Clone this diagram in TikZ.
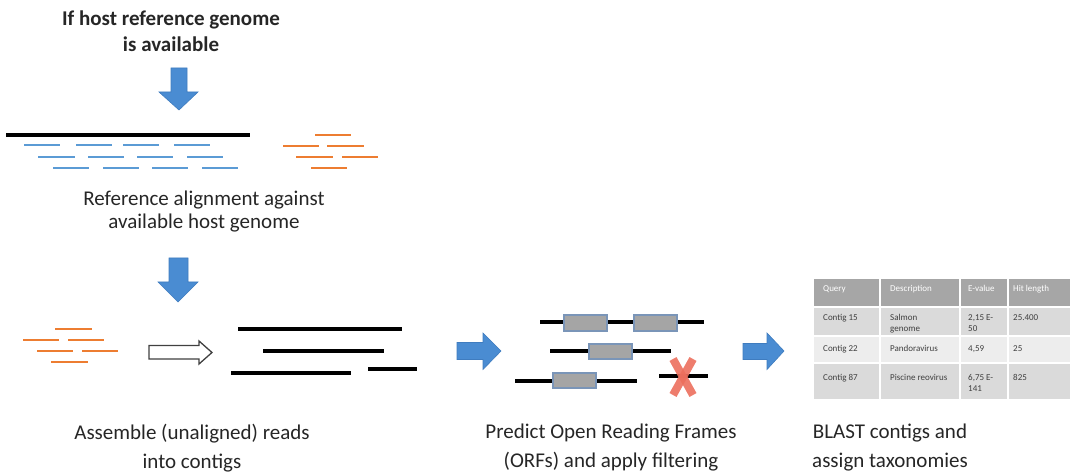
\documentclass[tikz,border=0pt]{standalone}
\usepackage{fontspec}
\setmainfont{Carlito}
\definecolor{flowblue}{HTML}{4A8CD2}
\definecolor{flowedge}{HTML}{3F7CBF}
\definecolor{readblue}{HTML}{5B9BD5}
\definecolor{readorange}{HTML}{ED7D31}
\definecolor{orfgray}{HTML}{A5A5A5}
\definecolor{orfedge}{HTML}{7A95B8}
\definecolor{xred}{HTML}{EC6F5D}
\definecolor{hdrgray}{HTML}{A6A6A6}
\definecolor{rowdark}{HTML}{DADADA}
\definecolor{rowlight}{HTML}{EDEDED}
\definecolor{cellink}{HTML}{3F3F3F}
\definecolor{captionink}{HTML}{262626}

\begin{document}
\begin{tikzpicture}[x=1pt,y=-1pt,
  caption/.style={align=center, text=captionink, inner sep=0pt},
  blueread/.style={readblue, line width=2.6pt},
  orangeread/.style={readorange, line width=2.6pt},
  dnaline/.style={black, line width=3.2pt},
  orfbox/.style={draw=orfedge, fill=orfgray, line width=1.2pt},
  blockarrow/.style={fill=flowblue, draw=flowedge, line width=0.6pt, line join=miter},
  hollowarrow/.style={fill=white, draw=black!75, line width=1.3pt, line join=miter},
  cell/.style={font=\fontsize{9}{11}\selectfont, text=cellink, anchor=north west, inner sep=0pt, align=left},
  hdr/.style={cell, text=white}
]
\useasboundingbox (0,0) rectangle (1074,473);

% ---------- captions ----------
\node[caption, font=\bfseries\fontsize{21}{26}\selectfont] (title) at (171,31)
  {If host reference genome\\is available};
\node[caption, font=\fontsize{21}{23}\selectfont] (refalign) at (204,212)
  {Reference alignment against\\available host genome};
\node[caption, font=\fontsize{21}{29}\selectfont] (assemble) at (192,448)
  {Assemble (unaligned) reads\\into contigs};
\node[caption, font=\fontsize{21}{29}\selectfont] (predict) at (611,448)
  {Predict Open Reading Frames\\(ORFs) and apply filtering};
\node[caption, font=\fontsize{21}{29}\selectfont] (blast) at (890,448)
  {BLAST contigs and\\assign taxonomies};

% ---------- block arrows ----------
% downward: shaft 68--92, head 92--110
\draw[blockarrow] (171,68) -- (187,68) -- (187,92) -- (198,92) -- (179,110)
  -- (159,92) -- (171,92) -- cycle;
\draw[blockarrow] (169,258) -- (188,258) -- (188,282) -- (198,282) -- (178,302)
  -- (158,282) -- (169,282) -- cycle;
% rightward
\draw[blockarrow] (457,342.5) -- (483,342.5) -- (483,333) -- (501,351) -- (483,369.5)
  -- (483,359.5) -- (457,359.5) -- cycle;
\draw[blockarrow] (743,343.5) -- (767,343.5) -- (767,333) -- (784,351) -- (767,369.5)
  -- (767,359.5) -- (743,359.5) -- cycle;
% hollow assembly arrow
\draw[hollowarrow] (149,345.5) -- (199,345.5) -- (199,341) -- (212,352.5) -- (199,364)
  -- (199,359) -- (149,359) -- cycle;

% ---------- reference alignment ----------
\draw[dnaline] (6,135) -- (250,135);
\foreach \a/\b/\y in {24/60/145, 76/112/145, 123/159/145, 174/210/145,
                      38/75/157, 88/124/157, 137/173/157, 187/223/157,
                      53/89/168, 103/139/168, 152/188/168, 202/238/168}
  \draw[blueread] (\a,\y) -- (\b,\y);
\foreach \a/\b/\y in {315/351/135, 283/319/146, 327/364/146,
                      296/333/157, 342/378/157, 311/347/168}
  \draw[orangeread] (\a,\y) -- (\b,\y);

% ---------- assembly ----------
\foreach \a/\b/\y in {55/92/329, 23/59/340, 68/104/340,
                      37/73/351, 82/118/351, 51/88/362}
  \draw[orangeread] (\a,\y) -- (\b,\y);
\foreach \a/\b/\y in {238/402/329, 263/384/351, 231/351/373, 368/417/369}
  \draw[dnaline] (\a,\y) -- (\b,\y);

% ---------- ORF prediction ----------
\draw[dnaline] (540,322) -- (704,322);
\draw[orfbox] (564,315) rectangle (607,331);
\draw[orfbox] (634,315) rectangle (677,331);
\draw[dnaline] (550,351) -- (671,351);
\draw[orfbox] (589,344) rectangle (632,359);
\draw[dnaline] (515,381) -- (637,381);
\draw[orfbox] (553,373) rectangle (596,388);
\draw[dnaline] (659,376) -- (708,376);
\begin{scope}[xred, line width=8pt, opacity=0.9]
  \draw (673,359) -- (693,395);
  \draw (693,359) -- (673,395);
\end{scope}

% ---------- BLAST table ----------
\fill[hdrgray]  (814,279) rectangle (1070,307);
\fill[rowdark]  (814,307) rectangle (1070,336);
\fill[rowlight] (814,336) rectangle (1070,363);
\fill[rowdark]  (814,363) rectangle (1070,399);
\begin{scope}[white, line width=1.8pt]
  \foreach \y in {307,336,363} \draw (814,\y) -- (1070,\y);
  \foreach \x in {880,960,1008} \draw (\x,279) -- (\x,399);
\end{scope}
\node[hdr]  (hq) at (823,285.5) {Query};
\node[hdr]  (hd) at (890,285.5) {Description};
\node[hdr]  (he) at (968,285.5) {E-value};
\node[hdr]  (hl) at (1013,285.5) {Hit length};
\node[cell] (q1) at (823,314.5) {Contig 15};
\node[cell] (d1) at (890,314.5) {Salmon\\genome};
\node[cell] (e1) at (968,314.5) {2,15 E-\\50};
\node[cell] (l1) at (1013,314.5) {25.400};
\node[cell] (q2) at (823,345.5) {Contig 22};
\node[cell] (d2) at (890,345.5) {Pandoravirus};
\node[cell] (e2) at (968,345.5) {4,59};
\node[cell] (l2) at (1013,345.5) {25};
\node[cell] (q3) at (823,374.5) {Contig 87};
\node[cell] (d3) at (890,374.5) {Piscine reovirus};
\node[cell] (e3) at (968,374.5) {6,75 E-\\141};
\node[cell] (l3) at (1013,374.5) {825};
\end{tikzpicture}
\end{document}
